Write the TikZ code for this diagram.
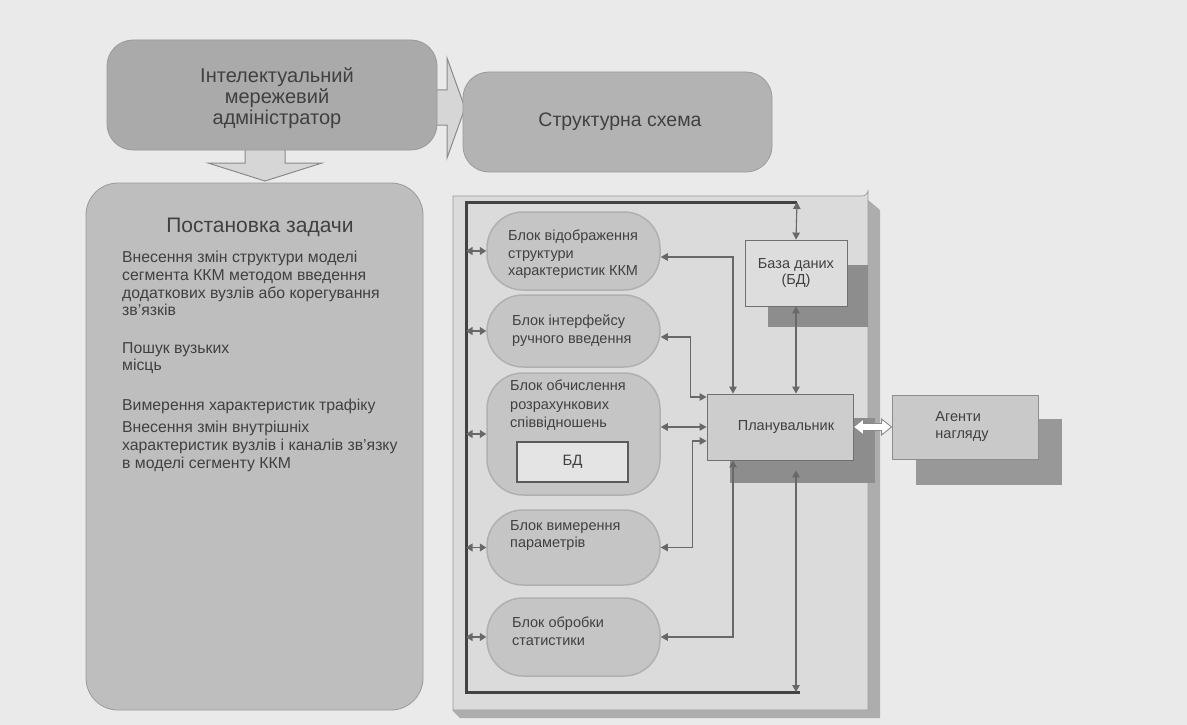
\documentclass[tikz,border=0pt]{standalone}
\usepackage{fontspec}
\setmainfont{Liberation Sans}
\usetikzlibrary{arrows.meta,calc}
\definecolor{bgc}{HTML}{EAEAEA}
\definecolor{admc}{HTML}{AAAAAA}
\definecolor{strc}{HTML}{B3B3B3}
\definecolor{taskc}{HTML}{BEBEBE}
\definecolor{edgec}{HTML}{9A9A9A}
\definecolor{arrfill}{HTML}{D6D6D6}
\definecolor{arrdraw}{HTML}{8A8A8A}
\definecolor{panelface}{HTML}{DBDBDB}
\definecolor{panelside}{HTML}{ADADAD}
\definecolor{paneledge}{HTML}{9A9A9A}
\definecolor{blockc}{HTML}{C5C5C5}
\definecolor{blockedge}{HTML}{B0B0B0}
\definecolor{dbfill}{HTML}{DDDDDD}
\definecolor{sqedge}{HTML}{707070}
\definecolor{planfill}{HTML}{CDCDCD}
\definecolor{agentfill}{HTML}{C9C9C9}
\definecolor{shadowc}{HTML}{8D8D8D}
\definecolor{busc}{HTML}{424242}
\definecolor{connc}{HTML}{686868}
\definecolor{txtc}{HTML}{404040}
\begin{document}
\begin{tikzpicture}[x=1pt,y=-1pt,
  txt/.style={text=txtc, inner sep=0pt},
  bigbox/.style={draw=edgec, line width=0.8pt, rounded corners=26pt, inner sep=0pt},
  blockarrow/.style={fill=arrfill, draw=arrdraw, line width=1pt, line join=miter},
  block/.style={fill=blockc, draw=blockedge, line width=1.5pt, rounded corners=36pt, minimum width=173pt, inner sep=0pt},
  sqbox/.style={draw=sqedge, line width=0.9pt, inner sep=0pt},
  shadowbox/.style={fill=shadowc, inner sep=0pt},
  conn/.style={draw=connc, line width=1.1pt, >={Triangle[width=7.5pt,length=7pt]}},
  smallarr/.style={draw=connc, line width=1.1pt, >={Triangle[width=8pt,length=6.5pt]}},
  bus/.style={draw=busc, line width=3pt, line join=miter},
  hollow/.style={fill=white, draw=arrdraw, line width=0.9pt, line join=miter},
  blocktext/.style={txt, align=left, anchor=north west, font=\fontsize{14.5}{17.5}\selectfont},
  tasktext/.style={txt, align=left, anchor=north west, font=\fontsize{15.8}{17.7}\selectfont}
]
% background
\fill[bgc] (0,0) rectangle (1187,725);
\useasboundingbox (0,0) rectangle (1187,725);

% block arrows (drawn first, partly covered by boxes)
\draw[blockarrow] (430,90) -- (447,90) -- (447,58) -- (465,108) -- (447,158) -- (447,125) -- (430,125) -- cycle;
\draw[blockarrow] (245,140) -- (285,140) -- (285,163) -- (322,163) -- (265,181) -- (208,163) -- (245,163) -- cycle;

% top boxes
\node[bigbox, fill=admc, minimum width=330pt, minimum height=110pt] (adm) at (272,95) {};
\node[txt, align=center, font=\fontsize{20}{21}\selectfont] (admt) at (277,98)
  {Інтелектуальний\\мережевий\\адміністратор};
\node[bigbox, fill=strc, minimum width=309pt, minimum height=100pt] (str) at (617.5,122) {};
\node[txt, font=\fontsize{19.5}{22}\selectfont] (strt) at (620,122) {Структурна схема};

% task box
\node[bigbox, fill=taskc, rounded corners=32pt, minimum width=337pt, minimum height=527pt] (task) at (254.5,446.5) {};
\node[txt, font=\fontsize{21}{24}\selectfont] (taskt) at (260,227) {Постановка задачи};
\node[tasktext] (p1) at (122,251) {Внесення змін структури моделі\\сегмента ККМ методом введення\\додаткових вузлів або корегування\\зв'язків};
\node[tasktext] (p2) at (122,342) {Пошук вузьких\\місць};
\node[tasktext] (p3) at (122,399) {Вимерення характеристик трафіку};
\node[tasktext] (p4) at (122,421) {Внесення змін внутрішніх\\характеристик вузлів і каналів зв'язку\\в моделі сегменту ККМ};

% panel
\fill[panelside] (458,200) -- (868,200) -- (880,210) -- (880,718) -- (460,718) -- (453,711) -- cycle;
\draw[paneledge, line width=0.6pt, fill=panelface] (453,196) -- (862,196) arc[start angle=90, end angle=0, radius=6] -- (868,710) -- (453,710) -- cycle;

% shadows
\node[shadowbox, minimum width=100pt, minimum height=62pt] (dbsh) at (818,296) {};
\node[shadowbox, minimum width=145pt, minimum height=65pt] (plansh) at (802.5,450.5) {};
\node[shadowbox, fill=shadowc!90!white, minimum width=146pt, minimum height=66pt] (agsh) at (989,452) {};

% blocks
\node[block, minimum height=78pt] (b1) at (573.5,251) {};
\node[block, minimum height=72pt] (b2) at (573.5,331) {};
\node[block, minimum height=122pt] (b3) at (573.5,434) {};
\node[block, minimum height=75pt] (b4) at (573.5,547.5) {};
\node[block, minimum height=78pt] (b5) at (573.5,637) {};
\node[blocktext] (b1t) at (508,230) {Блок відображення\\структури\\характеристик ККМ};
\node[blocktext] (b2t) at (512,315) {Блок інтерфейсу\\ручного введення};
\node[blocktext, font=\fontsize{14.5}{18.5}\selectfont] (b3t) at (510,380) {Блок обчислення\\розрахункових\\співвідношень};
\node[sqbox, fill=dbfill!80!white, draw=sqedge!80!black, line width=2pt, minimum width=111pt, minimum height=40pt, font=\fontsize{15}{18}\selectfont, text=txtc] (bdin) at (572.5,462) {БД};
\node[blocktext] (b4t) at (510,520) {Блок вимерення\\параметрів};
\node[blocktext] (b5t) at (512,617) {Блок обробки\\статистики};

% right-hand boxes
\node[sqbox, fill=dbfill, minimum width=102pt, minimum height=66pt, align=center, text=txtc, font=\fontsize{14.5}{16.5}\selectfont] (db) at (796,273) {База даних\\(БД)};
\node[sqbox, fill=planfill, minimum width=146pt, minimum height=66pt, text=txtc, font=\fontsize{14.5}{17}\selectfont] (plan) at (780,427) {\hspace*{12pt}Планувальник};
\node[sqbox, fill=agentfill, draw=sqedge!80!white, minimum width=146pt, minimum height=64pt, align=left, text=txtc, font=\fontsize{14.5}{17}\selectfont] (agents) at (965,427) {Агенти\\нагляду\hspace*{6pt}};

% bus
\coordinate (busTR) at (797,202);
\coordinate (busTL) at (466,202);
\coordinate (busBL) at (466,692);
\coordinate (busBR) at (800,692);
\draw[bus] (busTR) -- (busTL) -- (busBL) -- (busBR);

% small arrows from the bus to the blocks
\foreach \b in {b1,b2,b3,b4,b5}
  \draw[smallarr,<->] (\b.west -| busTL) -- (\b.west);

% connectors
\draw[conn,<->] (busTR) -- (db.north);
\draw[conn,<->] ([yshift=-6pt]b1.east) -| ([xshift=-47pt]plan.north);
\draw[conn,<->] ([yshift=-6pt]b2.east) -- ++(30,0) |- ([yshift=30pt]plan.west);
\draw[conn,<->] (b3.east |- plan.west) -- (plan.west);
\draw[conn,<->] (b4.east) -- ++(32,0) |- ([yshift=-14pt]plan.west);
\draw[conn,<->] (b5.east) -| ([xshift=-47pt]plan.south);
\draw[conn,<->] (db.south) -- (db.south |- plan.north);
\coordinate (pbot) at ($(db.south |- plan.south)+(0,10)$);
\draw[conn,<->] (pbot) -- (pbot |- busBR);

% hollow double arrow between planner and agents
\draw[hollow] (plan.east) -- ++(10,-8) -- ++(0,4.5) -- ($(agents.west)+(-10,-3.5)$) -- ++(0,-4.5) -- (agents.west) -- ++(-10,8) -- ++(0,-4.5) -- ($(plan.east)+(10,3.5)$) -- ++(0,4.5) -- cycle;
\end{tikzpicture}
\end{document}
